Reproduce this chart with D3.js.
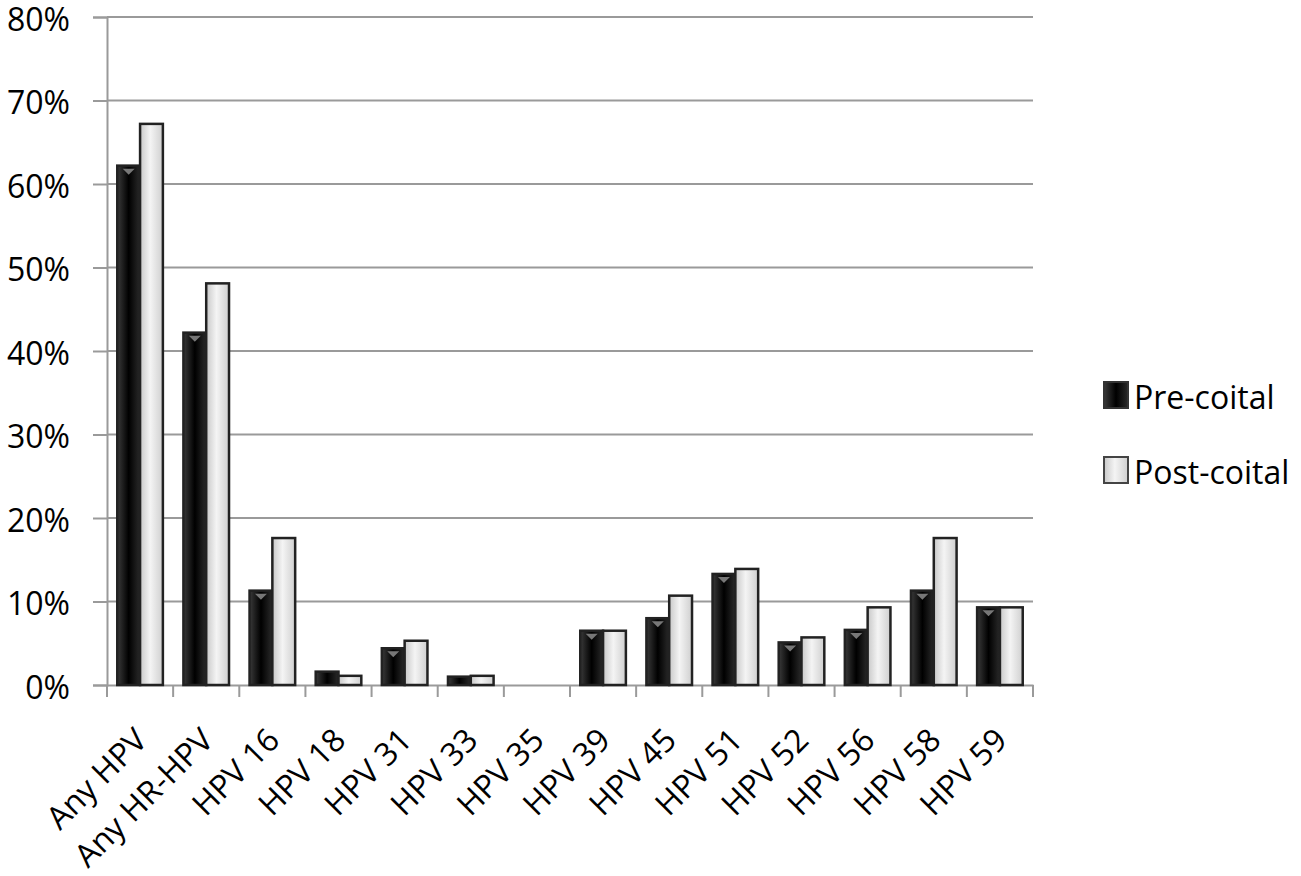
<!DOCTYPE html>
<html><head><meta charset="utf-8">
<script src="https://cdn.jsdelivr.net/npm/d3@7"></script>
<style>body{margin:0;background:#fff;}svg{display:block;font-family:"Open Sans",sans-serif;}</style>
</head><body>
<svg id="c" width="1301" height="876"></svg>
<script>
const categories = ["Any HPV","Any HR-HPV","HPV 16","HPV 18","HPV 31","HPV 33","HPV 35","HPV 39","HPV 45","HPV 51","HPV 52","HPV 56","HPV 58","HPV 59"];
const preCoital  = [62.2, 42.2, 11.3, 1.6, 4.4, 1.0, 0, 6.5, 8.0, 13.3, 5.1, 6.6, 11.3, 9.3];
const postCoital = [67.2, 48.1, 17.6, 1.1, 5.3, 1.1, 0, 6.5, 10.7, 13.9, 5.7, 9.3, 17.6, 9.3];
const seriesNames = ["Pre-coital","Post-coital"];
const yTicks = [0,10,20,30,40,50,60,70,80];

const svg = d3.select("#c");
const L = 107, R = 1033, T = 17, B = 685;
const FS = 32;
const x = d3.scaleBand().domain(categories).range([L, R]).paddingInner(0).paddingOuter(0);
const y = d3.scaleLinear().domain([0, 80]).range([B, T]);
const defs = svg.append("defs");
const g1 = defs.append("linearGradient").attr("id","gPre").attr("x1","0").attr("x2","1").attr("y1","0").attr("y2","0");
g1.append("stop").attr("offset","0%").attr("stop-color","#3a3a3a");
g1.append("stop").attr("offset","50%").attr("stop-color","#000");
g1.append("stop").attr("offset","100%").attr("stop-color","#2a2a2a");
const g2 = defs.append("linearGradient").attr("id","gPost").attr("x1","0").attr("x2","1").attr("y1","0").attr("y2","0");
g2.append("stop").attr("offset","0%").attr("stop-color","#c8c8c8");
g2.append("stop").attr("offset","45%").attr("stop-color","#f4f4f4");
g2.append("stop").attr("offset","100%").attr("stop-color","#cfcfcf");

// gridlines
svg.append("g").selectAll("line").data(yTicks.filter(d=>d>0)).join("line")
  .attr("x1", L).attr("x2", R).attr("y1", d=>y(d)).attr("y2", d=>y(d))
  .attr("stroke", "#9a9a9a").attr("stroke-width", 2);

// y axis
const yAxis = d3.axisLeft(y).tickValues(yTicks).tickFormat(d=>d+"%").tickSize(14).tickPadding(23);
const ya = svg.append("g").attr("transform", `translate(${L},0)`).call(yAxis);
ya.select(".domain").attr("stroke","#9a9a9a").attr("stroke-width",2);
ya.selectAll(".tick line").attr("stroke","#9a9a9a").attr("stroke-width",2);
ya.selectAll("text").attr("font-size",FS).attr("fill","#000").attr("font-family","'Open Sans',sans-serif").attr("dy","0.42em");

// x axis
const xAxis = d3.axisBottom(x).tickSize(0).tickFormat("");
const xa = svg.append("g").attr("transform", `translate(0,${B})`).call(xAxis);
xa.select(".domain").attr("stroke","#9a9a9a").attr("stroke-width",2);
const bounds = categories.map(c=>x(c)).concat([R]);
xa.selectAll(".bt").data(bounds).join("line").attr("class","bt")
  .attr("x1", d=>d).attr("x2", d=>d).attr("y1", 0).attr("y2", 12)
  .attr("stroke","#9a9a9a").attr("stroke-width",2);

// labels
svg.append("g").selectAll("text").data(categories).join("text")
  .attr("transform", d=>`translate(${x(d)+x.bandwidth()/2+9},${B+57}) rotate(-45)`)
  .attr("text-anchor","end")
  .attr("font-size",FS).attr("fill","#000").text(d=>d);

// bars
const inner = d3.scaleBand().domain(seriesNames).range([0, x.bandwidth()]).paddingInner(0).paddingOuter(0.45);
const data = categories.map((c,i)=>({c, vals:[preCoital[i], postCoital[i]]}));
const bg = svg.append("g").selectAll("g").data(data).join("g").attr("transform", d=>`translate(${x(d.c)},0)`);
const cells = d=>d.vals.map((v,j)=>({v, s:seriesNames[j]}));
bg.selectAll("rect").data(cells).join("rect")
  .attr("x", d=>inner(d.s)).attr("width", inner.bandwidth())
  .attr("y", d=>y(d.v)).attr("height", d=>Math.max(0, B - y(d.v)))
  .attr("fill", d=>d.s===seriesNames[0] ? "url(#gPre)" : "url(#gPost)")
  .attr("stroke", d=>d.v>0 ? "#222" : "none").attr("stroke-width", 2.5);
// small bevel triangle on top of dark bars
bg.selectAll("path.tri").data(d=>cells(d).filter(e=>e.s===seriesNames[0] && e.v>2)).join("path").attr("class","tri")
  .attr("d", d=>{const cx=inner(d.s)+inner.bandwidth()/2, ty=y(d.v)+3; return `M${cx-6},${ty}L${cx+6},${ty}L${cx},${ty+6}Z`;})
  .attr("fill","#777");

// legend
const lg = svg.append("g").selectAll("g").data(seriesNames).join("g")
  .attr("transform", (d,i)=>`translate(1104,${382 + i*75})`);
lg.append("rect").attr("width",24).attr("height",26)
  .attr("fill", (d,i)=> i===0 ? "url(#gPre)" : "url(#gPost)")
  .attr("stroke", (d,i)=> i===0 ? "#333" : "#444").attr("stroke-width",2);
lg.append("text").attr("x",30).attr("y",27).attr("font-size",FS).attr("fill","#000").text(d=>d);
</script>
</body></html>
